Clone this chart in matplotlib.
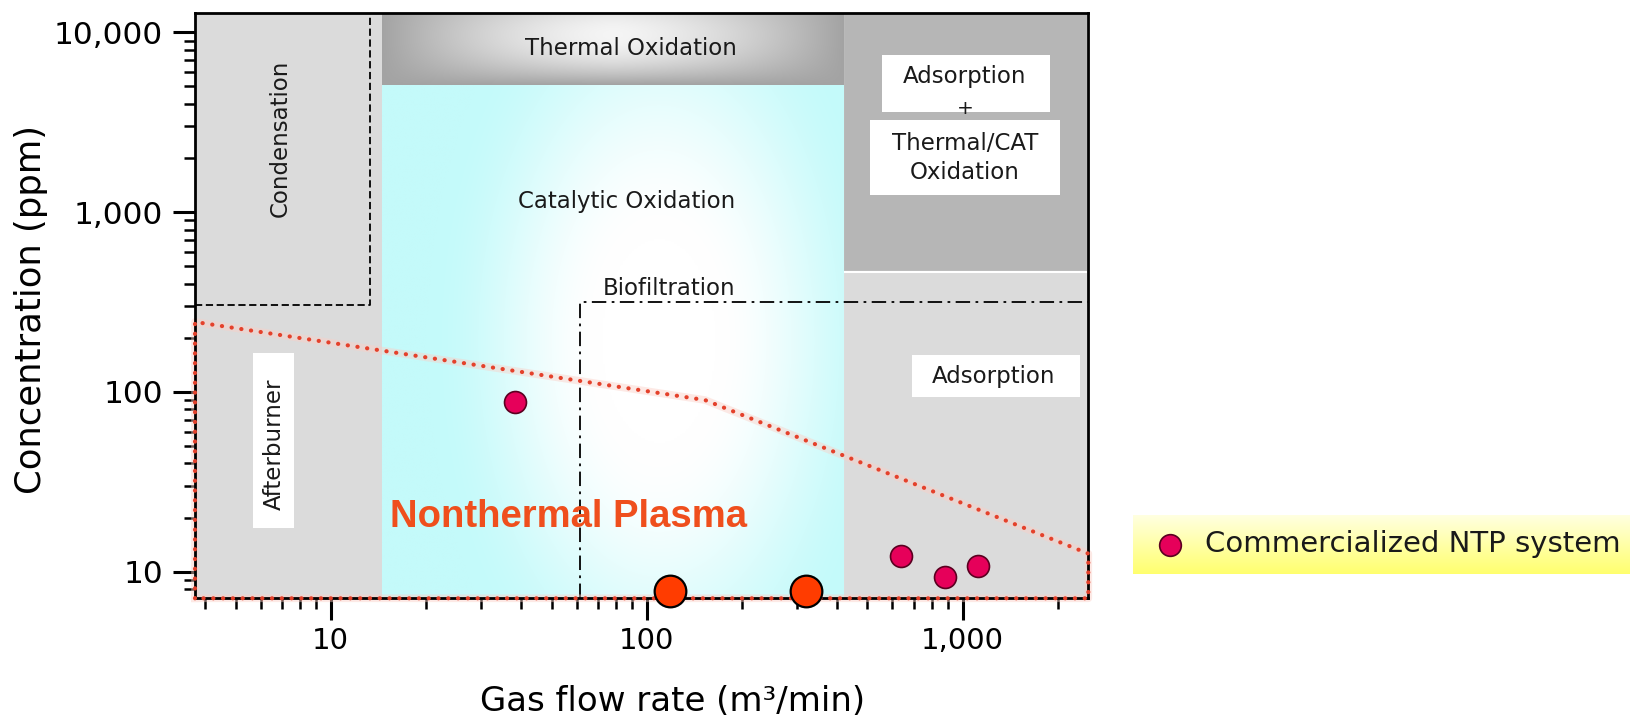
import matplotlib
matplotlib.use("agg")
import matplotlib.pyplot as plt
from matplotlib.patches import Rectangle
from matplotlib.ticker import FixedLocator, FuncFormatter, LogLocator, NullFormatter
import numpy as np

# commercialized NTP systems: gas flow (m3/min) and concentration (ppm)
ntp_flow = [38.3, 638, 879, 1116]
ntp_conc = [87.8, 12.3, 9.3, 10.8]

# the two orange marks sitting on the flow axis
orange_flow = [118.5, 318.5]
orange_conc = [7.84, 7.84]

# upper edge of the nonthermal plasma window
edge_flow = [3.72, 153, 2500]
edge_conc = [245, 90.1, 12.6]

x_lim = (3.72, 2500)
y_lim = (7.11, 12770)
xtick_values = [10, 100, 1000]
ytick_values = [10, 100, 1000, 10000]

# zone boundaries (data units)
gray_left_x = 14.55
cyan_right_x = 419
thermal_bottom_y = 5090
adsorb_split_y = 466
condensation_x = 13.3
condensation_y = 304
biofilt_x = 61.5
biofilt_y = 318

plt.rcParams["font.family"] = ["DejaVu Sans"]
TXT = "#1a1a1a"


def to_axes(ax, x, y):
    return ax.transAxes.inverted().transform(ax.transData.transform((x, y)))


def gradient_box(ax, x0, x1, y0, y1, rgb, zorder=1):
    a0 = to_axes(ax, x0, y0)
    a1 = to_axes(ax, x1, y1)
    ax.imshow(rgb, extent=(a0[0], a1[0], a0[1], a1[1]), transform=ax.transAxes,
              aspect="auto", origin="upper", zorder=zorder, interpolation="bilinear")


def main():
    fig = plt.figure(figsize=(16.3, 7.16), dpi=100)
    ax = fig.add_axes([0.11963, 0.16439, 0.54804, 0.81704])
    ax.set_xscale("log")
    ax.set_yscale("log")
    ax.set_xlim(*x_lim)
    ax.set_ylim(*y_lim)
    ax.set_facecolor("white")

    # flat gray zones
    ax.add_patch(Rectangle((x_lim[0], y_lim[0]), gray_left_x - x_lim[0], y_lim[1] - y_lim[0],
                           facecolor="#dbdbdb", edgecolor="none", zorder=1))
    ax.add_patch(Rectangle((cyan_right_x, adsorb_split_y), x_lim[1] - cyan_right_x,
                           y_lim[1] - adsorb_split_y, facecolor="#b6b6b6",
                           edgecolor="white", lw=1.5, zorder=1))
    ax.add_patch(Rectangle((cyan_right_x, y_lim[0]), x_lim[1] - cyan_right_x,
                           adsorb_split_y - y_lim[0], facecolor="#dbdbdb",
                           edgecolor="white", lw=1.5, zorder=1))

    # catalytic oxidation: cyan, fading to white right of centre
    n = 300
    u, v = np.meshgrid(np.linspace(0, 1, n), np.linspace(0, 1, n))
    d = np.sqrt(((u - 0.6) / 0.5) ** 2 + ((v - 0.5) / 0.8) ** 2)
    t = np.clip((d - 0.25) / 0.75, 0, 1)
    t = t * t * (3 - 2 * t)
    cyan = np.array([196, 250, 250]) / 255
    img = 1 - t[..., None] * (1 - cyan)
    gradient_box(ax, gray_left_x, cyan_right_x, y_lim[0], thermal_bottom_y, img)

    # thermal oxidation band
    u, v = np.meshgrid(np.linspace(0, 1, n), np.linspace(0, 1, 60))
    hx = np.clip(1 - (np.abs(u - 0.5) / 0.5) ** 1.5, 0, 1)
    vy = np.clip(1 - ((v - 0.3) / 0.7) ** 2, 0, 1)
    val = 0.64 + 0.32 * hx * vy
    img = np.repeat(val[..., None], 3, axis=2)
    gradient_box(ax, gray_left_x, cyan_right_x, thermal_bottom_y, y_lim[1], img)

    # condensation and biofiltration outlines
    ax.plot([x_lim[0], condensation_x, condensation_x], [condensation_y, condensation_y, y_lim[1]],
            color="black", lw=1.3, linestyle=(0, (4, 2)), zorder=3)
    ax.plot([biofilt_x, biofilt_x, x_lim[1]], [y_lim[0], biofilt_y, biofilt_y],
            color="black", lw=1.3, linestyle=(0, (8, 3, 1.5, 3)), zorder=3)

    # white label boxes
    for x0, x1, y0, y1 in [(5.68, 7.66, 17.5, 164.6), (554, 1888, 3614, 7480),
                           (509, 2032, 1245, 3252), (690, 2351, 94.0, 160.4)]:
        ax.add_patch(Rectangle((x0, y0), x1 - x0, y1 - y0, facecolor="white",
                               edgecolor="none", zorder=2))

    fs = 16.5
    ax.text(89.2, 7480, "Thermal Oxidation", ha="center", va="baseline", fontsize=fs, color=TXT, zorder=4)
    ax.text(86.6, 1050, "Catalytic Oxidation", ha="center", va="baseline", fontsize=fs, color=TXT, zorder=4)
    ax.text(6.91, 2582, "Condensation", ha="center", va="center", rotation=90, fontsize=fs, color=TXT, zorder=4)
    ax.text(6.62, 51.3, "Afterburner", ha="center", va="center", rotation=90, fontsize=fs, color=TXT, zorder=4)
    ax.text(72.8, 346, "Biofiltration", ha="left", va="baseline", fontsize=fs, color=TXT, zorder=4)
    ax.text(1017, 5200, "Adsorption", ha="center", va="baseline", fontsize=fs, color=TXT, zorder=4)
    ax.text(1017, 3775, "+", ha="center", va="center", fontsize=fs - 2, color=TXT, zorder=4)
    ax.text(1017, 2213, "Thermal/CAT", ha="center", va="baseline", fontsize=fs, color=TXT, zorder=4)
    ax.text(1017, 1522, "Oxidation", ha="center", va="baseline", fontsize=fs, color=TXT, zorder=4)
    ax.text(1256, 111.7, "Adsorption", ha="center", va="baseline", fontsize=fs, color=TXT, zorder=4)
    ax.text(15.4, 17.7, "Nonthermal Plasma", ha="left", va="baseline", fontsize=27.5,
            family="Liberation Sans", fontweight="bold", color="#ef4f1d", zorder=4)

    # nonthermal plasma window outline
    bx = [x_lim[0]] + edge_flow + [x_lim[1], x_lim[0]]
    by = [y_lim[0]] + edge_conc + [y_lim[0], y_lim[0]]
    ax.plot(bx, by, color="#fbcfc6", lw=5.5, alpha=0.45, clip_on=False, zorder=5)
    ax.plot(bx, by, color="#e4412b", lw=3.0, linestyle=(0, (0.05, 2.3)),
            dash_capstyle="round", clip_on=False, zorder=6)

    # data points
    ax.plot(ntp_flow, ntp_conc, "o", ms=15.8, mfc="#e6005a", mec="#5a0020", mew=1.2, zorder=7)
    ax.plot(orange_flow, orange_conc, "o", ms=22.8, mfc="#ff3c00", mec="black", mew=1.6,
            clip_on=False, zorder=8)

    # axes styling
    for s in ax.spines.values():
        s.set_linewidth(2)
        s.set_zorder(5)
    ax.xaxis.set_major_locator(FixedLocator(xtick_values))
    ax.yaxis.set_major_locator(FixedLocator(ytick_values))
    fmt = FuncFormatter(lambda val, pos: f"{val:,.0f}")
    ax.xaxis.set_major_formatter(fmt)
    ax.yaxis.set_major_formatter(fmt)
    for axis in (ax.xaxis, ax.yaxis):
        axis.set_minor_locator(LogLocator(base=10, subs=np.arange(2, 10)))
        axis.set_minor_formatter(NullFormatter())
    ax.tick_params(which="major", direction="out", length=16, width=2.2, labelsize=21, pad=5)
    ax.tick_params(which="minor", direction="out", length=8, width=1.8)
    ax.tick_params(axis="y", which="major", pad=7, labelsize=22.5)

    ax.set_xlabel("Gas flow rate (m³/min)", fontsize=24.5, va="baseline")
    ax.xaxis.set_label_coords(0.535, -0.193)
    ax.set_ylabel("Concentration (ppm)", fontsize=25.5, va="center")
    ax.yaxis.set_label_coords(-0.1836, 0.4945)
    ax.set_xlim(*x_lim)
    ax.set_ylim(*y_lim)

    # legend box with yellow gradient
    lax = fig.add_axes([0.695, 0.1983, 0.305, 0.0824])
    g = np.linspace(0, 1, 100)[:, None] * np.ones((1, 10))
    top = np.array([255, 255, 225]) / 255
    bot = np.array([255, 255, 110]) / 255
    img = top + (bot - top) * g[..., None]
    lax.imshow(img, extent=(0, 1, 0, 1), aspect="auto", origin="upper", interpolation="bilinear")
    lax.plot([0.0744], [0.49], "o", ms=15.6, mfc="#e6005a", mec="#5a0020", mew=1.2)
    lax.text(0.1449, 0.368, "Commercialized NTP system", fontsize=21, color=TXT, va="baseline")
    lax.set_xlim(0, 1)
    lax.set_ylim(0, 1)
    lax.axis("off")

    fig.savefig("out.png", dpi=100)


if __name__ == "__main__":
    main()
